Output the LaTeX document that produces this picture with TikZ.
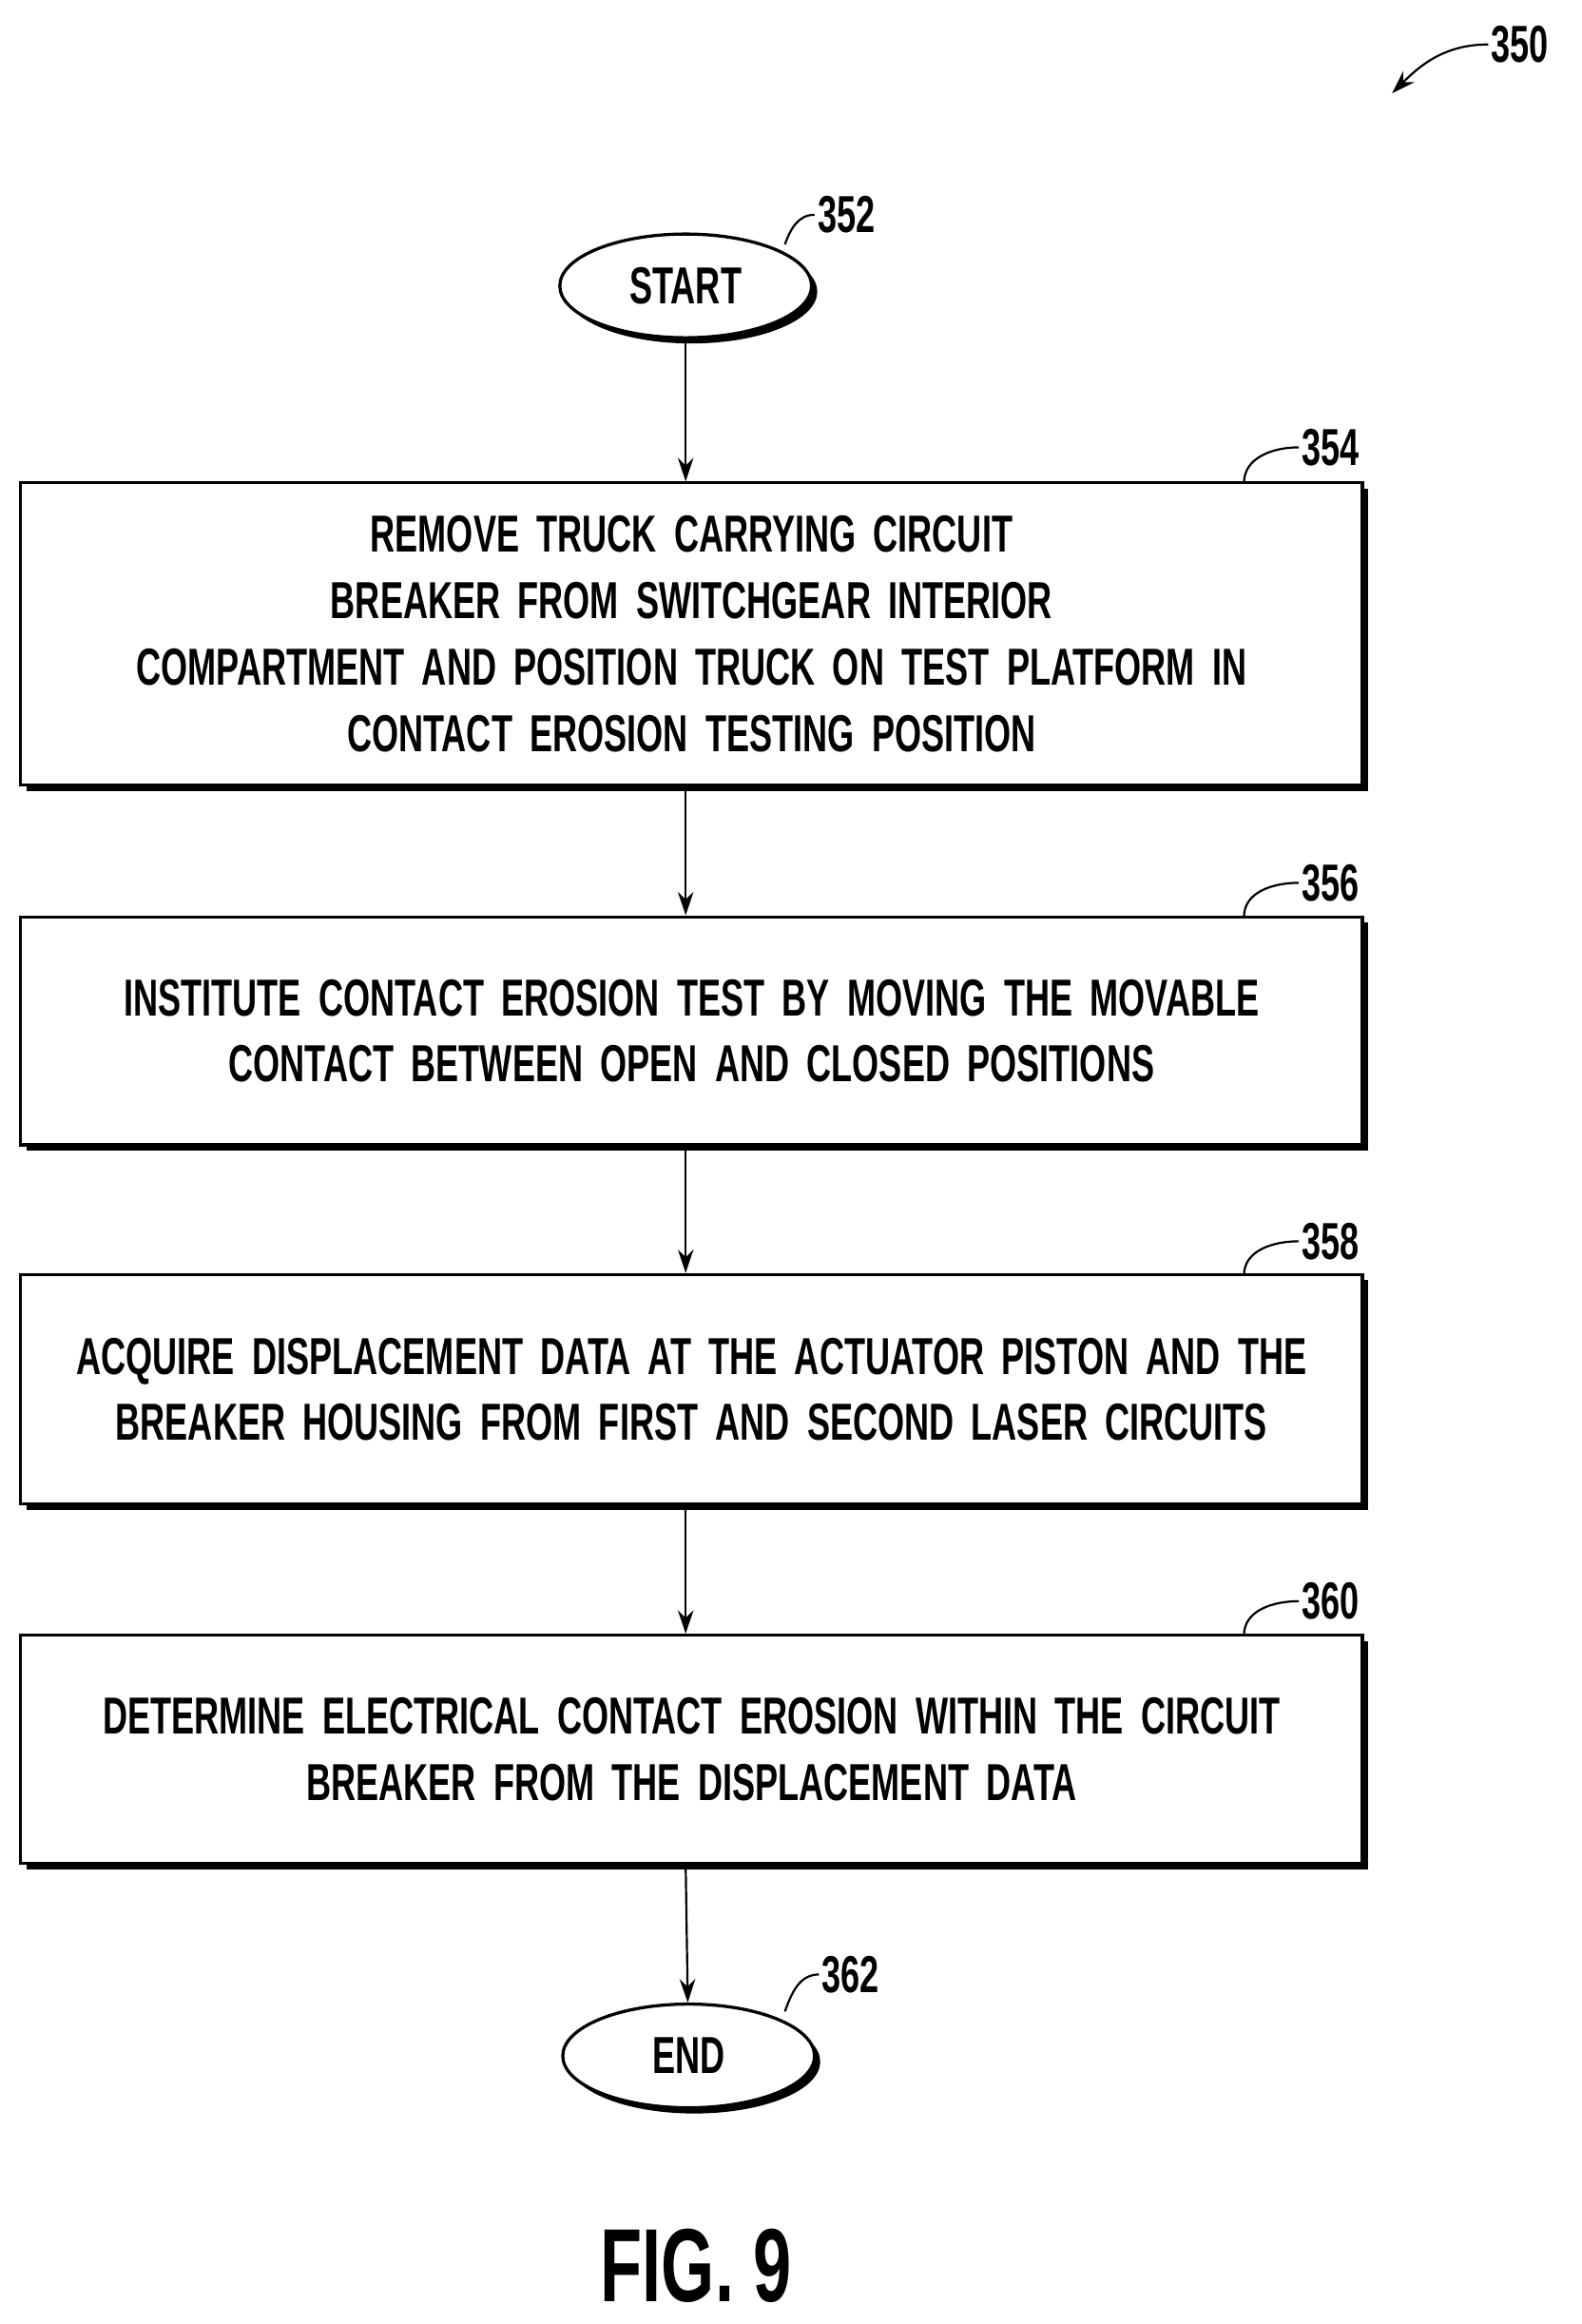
\documentclass[tikz,border=0pt]{standalone}
\usepackage{fontspec}
\setmainfont{Liberation Sans}[FakeStretch=0.66,BoldFont={Liberation Sans Bold},BoldFeatures={FakeStretch=0.66}]
\usetikzlibrary{positioning,shadows,shapes.geometric}

\tikzset{
  stepbox/.style={draw,very thick,fill=white,text width=880*0.02cm,inner xsep=13*0.02cm,align=center,
    font=\bfseries\fontsize{20}{25.5}\selectfont,
    drop shadow={opacity=1,fill=black,shadow xshift=2.2pt,shadow yshift=-2.2pt}},
  termbox/.style={ellipse,draw,very thick,fill=white,minimum width=170*0.02cm,minimum height=70*0.02cm,
    font=\bfseries\fontsize{20}{24}\selectfont,
    drop shadow={opacity=1,fill=black,shadow xshift=2.2pt,shadow yshift=-2.2pt}},
  reflabel/.style={font=\bfseries\fontsize{20}{24}\selectfont,anchor=west,inner sep=1pt},
  flow/.style={-{Stealth[length=9pt,width=6pt]},thick}
}
\usetikzlibrary{arrows.meta}

\begin{document}
\begin{tikzpicture}[x=0.02cm,y=-0.02cm]
  \useasboundingbox (0,0) rectangle (1068,1569);
  %boxes
  \node [termbox] (start) at (463,193) {START};
  \node [stepbox,minimum height=204*0.02cm] (remove) at (467,428)
    {REMOVE TRUCK CARRYING CIRCUIT BREAKER FROM SWITCHGEAR INTERIOR\\
     COMPARTMENT AND POSITION TRUCK ON TEST PLATFORM IN\\
     CONTACT EROSION TESTING POSITION};
  \node [stepbox,minimum height=154*0.02cm] (test) at (467,696)
    {INSTITUTE CONTACT EROSION TEST BY MOVING THE MOVABLE\\
     CONTACT BETWEEN OPEN AND CLOSED POSITIONS};
  \node [stepbox,minimum height=155*0.02cm] (acquire) at (467,938)
    {ACQUIRE DISPLACEMENT DATA AT THE ACTUATOR PISTON AND THE\\
     BREAKER HOUSING FROM FIRST AND SECOND LASER CIRCUITS};
  \node [stepbox,minimum height=154*0.02cm] (determine) at (467,1181)
    {DETERMINE ELECTRICAL CONTACT EROSION WITHIN THE CIRCUIT\\
     BREAKER FROM THE DISPLACEMENT DATA};
  \node [termbox] (end) at (465,1388) {END};
  %arrows
  \draw [flow] (start) -- (remove.north -| start);
  \draw [flow] (remove.south -| start) -- (test.north -| start);
  \draw [flow] (test.south -| start) -- (acquire.north -| start);
  \draw [flow] (acquire.south -| start) -- (determine.north -| start);
  \draw [flow] (determine.south -| start) -- (end);
  %reference numerals
  \node [reflabel] (n350) at (1005,30) {350};
  \draw [flow] (n350.west) to [out=180,in=45] (940,63);
  \node [reflabel] (n352) at (550,145) {352};
  \draw [thick] (n352.west) to [out=180,in=70] (530,165);
  \node [reflabel] (n354) at (877,302) {354};
  \draw [thick] (n354.west) to [out=180,in=90] (840,326);
  \node [reflabel] (n356) at (877,596) {356};
  \draw [thick] (n356.west) to [out=180,in=90] (840,619);
  \node [reflabel] (n358) at (877,838) {358};
  \draw [thick] (n358.west) to [out=180,in=90] (840,861);
  \node [reflabel] (n360) at (877,1081) {360};
  \draw [thick] (n360.west) to [out=180,in=90] (840,1104);
  \node [reflabel] (n362) at (553,1333) {362};
  \draw [thick] (n362.west) to [out=180,in=70] (530,1358);
  \node [font=\bfseries\fontsize{40}{44}\selectfont] (fig) at (470,1530) {FIG. 9};
\end{tikzpicture}
\end{document}
